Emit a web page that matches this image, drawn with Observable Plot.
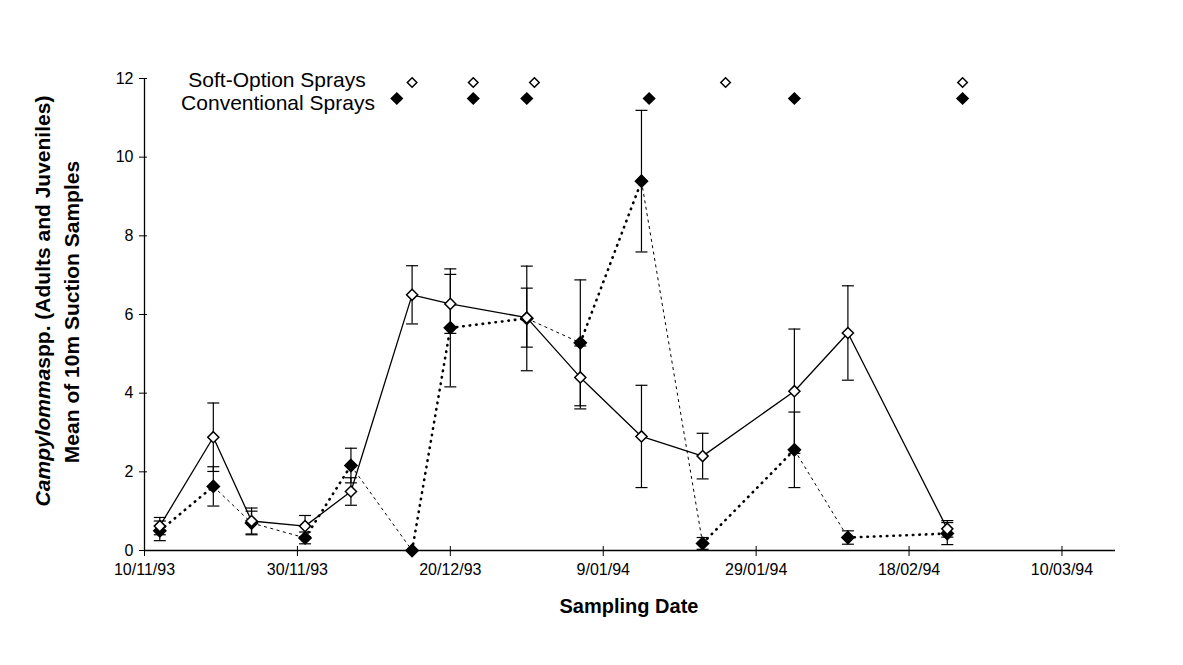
<!DOCTYPE html>
<html>
<head>
<meta charset="utf-8">
<script src="https://cdn.jsdelivr.net/npm/d3@7"></script>
<script src="https://cdn.jsdelivr.net/npm/@observablehq/plot@0.6"></script>
<style>
  html, body { margin: 0; padding: 0; background: #fff; }
  #chart svg { display: block; }
</style>
</head>
<body>
<div id="chart"></div>
<script>
// Sampling dates (d/mm/yy) and mean Campylomma counts per 10 m suction sample
const sampleDates = ["12/11/93", "19/11/93", "24/11/93", "1/12/93", "7/12/93", "15/12/93", "20/12/93",
                     "30/12/93", "6/01/94", "14/01/94", "22/01/94", "3/02/94", "10/02/94", "23/02/94"];
const softMean = [0.62, 2.88, 0.75, 0.62, 1.50, 6.50, 6.27, 5.92, 4.40, 2.90, 2.40, 4.05, 5.53, 0.55];
const softSE   = [0.22, 0.87, 0.33, 0.27, 0.35, 0.74, 0.75, 0.75, 0.80, 1.30, 0.58, 1.58, 1.20, 0.21];
const convMean = [0.50, 1.63, 0.70, 0.32, 2.16, 0.00, 5.66, 5.90, 5.28, 9.39, 0.18, 2.56, 0.33, 0.43];
const convSE   = [0.25, 0.50, 0.30, 0.15, 0.44, 0.00, 1.50, 1.33, 1.60, 1.80, 0.15, 0.96, 0.17, 0.28];

// Spray application dates
const softSprayDates = ["15/12/93", "23/12/93", "31/12/93", "25/01/94", "25/02/94"];
const convSprayDates = ["13/12/93", "23/12/93", "30/12/93", "15/01/94", "3/02/94", "25/02/94"];

// Axes
const xTickLabels = ["10/11/93", "30/11/93", "20/12/93", "9/01/94", "29/01/94", "18/02/94", "10/03/94"];
const xDomainLabels = ["10/11/93", "17/03/94"];
const yTicks = [0, 2, 4, 6, 8, 10, 12];

const parse = d3.utcParse("%d/%m/%y");
const fmt = d3.utcFormat("%-d/%m/%y");

const rows = sampleDates.map((d, i) => ({
  date: parse(d), soft: softMean[i], softSE: softSE[i], conv: convMean[i], convSE: convSE[i]
}));

// Error bars for both treatments
const errBars = rows.flatMap(r => [
  {date: r.date, lo: r.soft - r.softSE, hi: r.soft + r.softSE},
  {date: r.date, lo: r.conv - r.convSE, hi: r.conv + r.convSE}
]).filter(e => e.hi > e.lo);
const errCaps = errBars.flatMap(e => [{date: e.date, y: e.lo}, {date: e.date, y: e.hi}]);

// Conventional series drawn segment by segment: rising parts heavy dotted, falling parts fine dashed
const convSegs = d3.pairs(rows).map(([a, b]) => ({
  x1: a.date, y1: a.conv, x2: b.date, y2: b.conv, rising: b.conv >= a.conv
}));

// Horizontal cap symbol for error bars
const capSymbol = {
  draw(ctx, size) {
    const r = Math.sqrt(size / Math.PI);
    ctx.moveTo(-r, 0);
    ctx.lineTo(r, 0);
  }
};

const xTicks = xTickLabels.map(parse);
const xDomain = xDomainLabels.map(parse);

const chart = Plot.plot({
  width: 1183,
  height: 665,
  marginLeft: 144,
  marginRight: 68,
  marginTop: 78,
  marginBottom: 115,
  style: {
    fontFamily: "'Liberation Sans', Arial, sans-serif",
    fontSize: "16px",
    color: "#000",
    background: "#fff",
    overflow: "visible"
  },
  x: {type: "utc", domain: xDomain},
  y: {domain: [0, 12]},
  marks: [
    Plot.ruleY([0], {stroke: "#000", strokeWidth: 1.3}),
    Plot.ruleX([xDomain[0]], {y1: 0, y2: 12, stroke: "#000", strokeWidth: 1.3}),
    Plot.axisY({ticks: yTicks, tickSize: 8, dx: 3, tickPadding: 6, label: null, stroke: "#000"}),
    Plot.axisX({ticks: xTicks, tickFormat: fmt, tickSize: 10, dy: -4, tickPadding: 7, label: null, stroke: "#000"}),

    // Conventional sprays series
    Plot.link(convSegs.filter(s => s.rising), {
      x1: "x1", y1: "y1", x2: "x2", y2: "y2",
      stroke: "#000", strokeWidth: 2.6, strokeDasharray: "0.5,6", strokeLinecap: "round"
    }),
    Plot.link(convSegs.filter(s => !s.rising), {
      x1: "x1", y1: "y1", x2: "x2", y2: "y2",
      stroke: "#000", strokeWidth: 1, strokeDasharray: "3,3.5"
    }),

    // Soft-option sprays series
    Plot.line(rows, {x: "date", y: "soft", stroke: "#000", strokeWidth: 1.3}),

    // Error bars
    Plot.ruleX(errBars, {x: "date", y1: "lo", y2: "hi", stroke: "#000", strokeWidth: 1.2}),
    Plot.dot(errCaps, {x: "date", y: "y", symbol: capSymbol, r: 6, stroke: "#000", strokeWidth: 1.2}),

    // Markers
    Plot.dot(rows, {x: "date", y: "conv", symbol: "diamond2", r: 5.5, fill: "#000", stroke: "#000"}),
    Plot.dot(rows, {x: "date", y: "soft", symbol: "diamond2", r: 5, fill: "#fff", stroke: "#000", strokeWidth: 1.5}),

    // Spray timing rows along the top
    Plot.dot(softSprayDates.map(parse), {x: d => d, frameAnchor: "top", dy: 4, symbol: "diamond2", r: 4.3,
      fill: "#fff", stroke: "#000", strokeWidth: 1.5}),
    Plot.dot(convSprayDates.map(parse), {x: d => d, frameAnchor: "top", dy: 20, symbol: "diamond2", r: 5,
      fill: "#000", stroke: "#000"})
  ]
});

const svg = d3.select(chart);
const font = "'Liberation Sans', Arial, sans-serif";

// Spray row labels
svg.append("text").attr("x", 277).attr("y", 87).attr("text-anchor", "middle")
  .attr("font-family", font).attr("font-size", 21).attr("fill", "#000").text("Soft-Option Sprays");
svg.append("text").attr("x", 278).attr("y", 110).attr("text-anchor", "middle")
  .attr("font-family", font).attr("font-size", 21).attr("fill", "#000").text("Conventional Sprays");

// Y axis title (two lines)
const t1 = svg.append("text").attr("transform", "translate(50,301) rotate(-90)").attr("text-anchor", "middle")
  .attr("font-family", font).attr("font-size", 21).attr("font-weight", "bold").attr("fill", "#000");
t1.append("tspan").attr("font-style", "italic").text("Campylomma");
t1.append("tspan").text("spp. (Adults and Juveniles)");
svg.append("text").attr("transform", "translate(79,312) rotate(-90)").attr("text-anchor", "middle")
  .attr("font-family", font).attr("font-size", 21).attr("font-weight", "bold").attr("fill", "#000")
  .text("Mean of 10m Suction Samples");

// X axis title
svg.append("text").attr("x", 629).attr("y", 613).attr("text-anchor", "middle")
  .attr("font-family", font).attr("font-size", 20).attr("font-weight", "bold").attr("fill", "#000")
  .text("Sampling Date");

document.getElementById("chart").append(chart);
</script>
</body>
</html>
